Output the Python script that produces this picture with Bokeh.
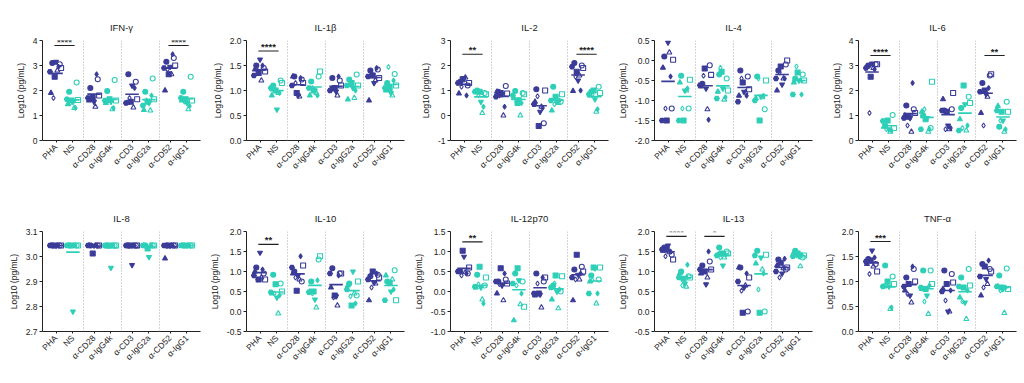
import math
import numpy as np
from bokeh.plotting import figure
from bokeh.layouts import gridplot
from bokeh.models import FixedTicker, Range1d, Span, ColumnDataSource, PrintfTickFormatter
from bokeh.embed import file_html
from bokeh.resources import INLINE
from bokeh.core.properties import value

# ---------------- data ----------------
categories = ["PHA", "NS", "α-CD28", "α-IgG4k", "α-CD3", "α-IgG2a", "α-CD52", "α-IgG1"]

panel_titles = ["IFN-γ", "IL-1β", "IL-2", "IL-4", "IL-6",
                "IL-8", "IL-10", "IL-12p70", "IL-13", "TNF-α"]

# each list: one row per category (order as in `categories`), one value per donor
ifn_gamma = [
    [3.1, 3.05, 2.55, 2.9, 1.9, 2.8, 3.15, 1.7, 2.95, 2.75],
    [1.95, 2.32, 1.6, 1.62, 1.45, 1.3, 1.55, 1.5, 1.3, 1.65],
    [2.1, 2.45, 1.7, 1.8, 1.6, 1.35, 1.55, 1.65, 2.65, 1.7],
    [1.98, 2.42, 1.65, 1.6, 1.5, 1.25, 1.55, 1.6, 1.3, 1.6],
    [2.65, 2.35, 1.55, 1.65, 1.5, 1.32, 2.2, 1.7, 2.1, 1.5],
    [1.95, 2.48, 1.55, 1.65, 1.22, 1.2, 1.5, 1.6, 1.8, 1.4],
    [3.15, 3.3, 2.65, 3.0, 2.0, 2.65, 2.95, 2.85, 3.45, 2.9],
    [1.95, 2.55, 1.65, 1.6, 1.6, 1.25, 1.5, 1.55, 1.38, 1.7],
]
il_1b = [
    [1.5, 1.45, 1.35, 1.38, 1.42, 1.2, 1.62, 1.4, 1.5, 1.3],
    [1.1, 1.2, 1.0, 1.15, 0.9, 0.95, 0.62, 1.05, 0.95, 1.05],
    [1.28, 1.22, 0.95, 1.15, 1.28, 0.88, 0.9, 1.15, 1.25, 1.1],
    [1.18, 1.28, 1.0, 1.38, 0.9, 0.95, 1.0, 1.05, 0.9, 1.05],
    [1.25, 1.2, 1.05, 1.1, 1.02, 0.9, 0.98, 1.05, 1.28, 1.0],
    [1.22, 1.32, 1.15, 1.1, 0.82, 0.85, 1.05, 1.18, 1.0, 1.1],
    [1.4, 1.42, 1.3, 1.25, 0.8, 1.2, 1.15, 1.35, 1.45, 1.28],
    [1.15, 1.33, 1.05, 1.1, 1.0, 0.9, 0.95, 1.47, 1.2, 1.05],
]
il_2 = [
    [1.35, 1.2, 1.45, 1.3, 0.88, 1.52, 1.5, 1.15, 0.8, 1.3],
    [1.0, 0.9, 0.95, 0.85, 0.98, 0.1, 0.55, 0.82, 0.35, 0.95],
    [0.95, 1.18, 0.9, 0.88, 0.95, 0.0, 0.85, 0.8, 0.35, 0.75],
    [0.98, 0.9, 0.5, 0.85, 0.7, 0.0, 0.65, 0.55, 0.5, 0.8],
    [1.05, -0.31, -0.42, 1.0, 0.55, 0.35, 0.15, 0.77, 0.3, 0.45],
    [1.15, 0.55, 0.75, 0.85, 0.2, 0.5, 0.55, 0.45, 0.6, 0.6],
    [2.1, 2.0, 1.75, 1.9, 0.98, 1.6, 1.4, 1.55, 1.0, 1.95],
    [0.95, 1.15, 1.0, 0.9, 0.8, 0.15, 0.65, 0.85, 0.25, 0.85],
]
il_4 = [
    [0.1, -1.2, -1.5, 0.02, -0.18, 0.2, 0.45, -1.2, -0.4, -1.5],
    [-0.38, -1.2, -1.5, -0.48, -0.55, -0.75, -0.75, -1.2, -0.7, -1.5],
    [-0.58, -0.12, -0.2, -0.36, -0.65, -1.22, -0.7, -0.38, -1.48, -0.62],
    [-0.35, -0.45, -0.28, -0.75, -0.78, -0.98, -0.7, -0.18, -0.92, -0.95],
    [-0.25, -0.4, -0.55, -0.72, -0.88, -0.8, -0.78, -0.45, -0.88, -1.03],
    [-0.4, -1.22, -1.5, -0.5, -0.95, -0.92, -0.9, -0.45, -0.88, -1.0],
    [-0.25, -0.1, -0.15, 0.0, -0.75, -0.45, -0.6, -0.3, -0.45, -0.45],
    [-0.45, -0.35, -0.3, -0.5, -0.55, -0.5, -0.5, -0.15, -0.85, -0.85],
]
il_6 = [
    [3.0, 3.05, 2.55, 3.05, 2.95, 2.9, 3.08, 1.1, 2.85, 2.9],
    [0.6, 1.02, 0.8, 0.5, 0.55, 0.35, 0.45, 0.45, 0.4, 0.78],
    [1.4, 1.25, 0.95, 1.1, 1.0, 0.35, 0.9, 0.6, 2.3, 0.9],
    [1.0, 0.5, 0.85, 2.35, 1.15, 0.35, 0.9, 1.25, 0.45, 0.45],
    [1.2, 1.25, 1.15, 1.9, 1.65, 0.45, 0.6, 0.45, 0.5, 1.2],
    [1.3, 1.75, 2.2, 1.5, 0.85, 0.4, 1.45, 0.5, 0.6, 0.4],
    [2.3, 2.6, 2.0, 2.65, 1.1, 1.75, 1.85, 0.6, 2.1, 1.95],
    [0.55, 1.55, 1.15, 1.15, 1.38, 0.35, 0.8, 0.8, 0.45, 1.2],
]
il_8 = [
    [3.044, 3.044, 3.044, 3.044, 3.044, 3.044, 3.044, 3.044, 3.044, 3.044],
    [3.044, 3.044, 3.044, 3.044, 3.044, 3.044, 2.78, 3.044, 3.044, 3.044],
    [3.044, 3.044, 3.012, 3.044, 3.044, 3.044, 3.044, 3.044, 3.044, 3.044],
    [3.044, 3.044, 3.044, 3.044, 3.044, 3.044, 2.955, 3.044, 3.044, 3.044],
    [3.044, 3.044, 3.044, 3.044, 3.044, 3.044, 2.966, 3.044, 3.044, 3.044],
    [3.044, 3.044, 3.032, 3.044, 3.044, 3.044, 2.998, 3.044, 3.044, 3.044],
    [3.044, 3.044, 3.044, 3.044, 2.992, 3.044, 3.044, 3.044, 3.044, 3.044],
    [3.044, 3.044, 3.044, 3.044, 3.044, 3.044, 3.044, 3.044, 3.044, 3.044],
]
il_10 = [
    [1.1, 0.95, 0.8, 0.8, 1.0, 0.85, 1.47, 0.8, 1.05, 0.9],
    [0.92, 0.7, 0.68, 0.5, 0.45, -0.05, 0.35, 0.45, 0.4, 0.48],
    [1.0, 0.75, 0.52, 1.15, 0.95, 0.8, 0.9, 0.85, 1.38, 1.1],
    [0.75, 1.3, 0.5, 1.38, 0.5, 0.1, 0.3, 0.45, 0.78, 0.48],
    [1.08, 0.95, 0.4, 0.95, 0.6, 0.15, 0.38, 0.35, 0.9, 0.95],
    [0.7, 0.4, 0.15, 0.75, 0.65, 0.45, 1.0, 0.38, 0.2, 0.55],
    [0.88, 0.92, 1.0, 0.85, 0.28, 0.7, 0.72, 0.6, 0.95, 0.8],
    [0.75, 1.03, 0.72, 0.28, 0.9, 0.8, 0.5, 0.7, 0.55, 0.28],
]
il_12p70 = [
    [0.5, 0.45, 1.02, 0.6, 0.5, 0.48, 0.87, 0.4, 0.45, 0.5],
    [0.42, 0.15, 0.62, 0.35, 0.1, -0.2, 0.1, 0.18, -0.3, 0.12],
    [0.25, 0.3, 0.58, 0.2, -0.05, -0.22, 0.15, 0.18, 0.45, 0.25],
    [0.45, 0.25, 0.58, -0.38, -0.72, -0.32, 0.28, 0.15, -0.05, 0.2],
    [0.45, 0.25, -0.05, 0.35, -0.1, -0.4, -0.08, 0.2, 0.35, -0.05],
    [0.15, 0.0, 0.4, 0.38, -0.2, -0.42, 0.0, 0.2, 0.05, 0.1],
    [0.55, 0.62, 0.92, 0.5, -0.22, 0.3, 0.42, 0.3, 0.45, 0.35],
    [0.4, 0.3, 0.6, 0.6, 0.25, -0.3, 0.58, 0.28, -0.05, -0.05],
]
il_13 = [
    [1.6, 1.42, 1.55, 1.3, 1.52, 1.48, 1.65, 1.38, 1.5, 1.55],
    [1.0, 0.88, 0.82, 0.85, 0.95, 0.62, 0.7, 0.65, 1.17, 0.85],
    [1.15, 1.25, 1.0, 1.05, 0.95, 0.85, 0.68, 1.0, 1.5, 1.05],
    [1.6, 1.5, 1.45, 1.45, 1.42, 1.35, 1.15, 1.35, 1.42, 1.4],
    [1.1, 0.0, -0.03, 0.85, 1.1, 0.65, 0.6, 0.52, 0.95, 0.75],
    [1.52, 0.0, -0.03, 1.42, 1.2, 1.05, 1.35, 0.55, 0.95, 1.4],
    [1.3, 1.05, 1.22, 1.1, 1.15, 1.08, 0.95, 0.85, 1.32, 1.0],
    [1.52, 1.35, 1.45, 1.4, 1.48, 1.13, 1.38, 1.4, 1.42, 1.38],
]
tnf_a = [
    [1.45, 1.35, 1.42, 1.2, 1.35, 1.3, 1.62, 1.15, 1.48, 1.4],
    [1.32, 1.1, 1.0, 0.95, 0.9, 0.45, 0.9, 0.92, 0.48, 0.9],
    [1.08, 1.25, 0.95, 1.0, 0.82, 0.58, 0.72, 0.75, 1.3, 0.9],
    [1.22, 1.22, 0.85, 0.95, 0.85, 0.35, 0.72, 0.6, 0.92, 0.88],
    [1.22, 1.15, 0.95, 0.98, 0.85, 0.4, 0.4, 0.62, 0.82, 0.8],
    [1.08, 1.25, 0.88, 0.92, 0.68, 0.25, 0.58, 0.6, 0.82, 0.9],
    [1.35, 1.25, 1.3, 1.2, 0.72, 0.95, 1.05, 0.88, 1.42, 1.1],
    [1.12, 1.26, 0.88, 0.85, 0.9, 0.37, 0.85, 0.82, 0.88, 0.9],
]
panel_values = [ifn_gamma, il_1b, il_2, il_4, il_6, il_8, il_10, il_12p70, il_13, tnf_a]

# y-axis ticks per panel
y_ticks = [
    [0, 1, 2, 3, 4],
    [0.0, 0.5, 1.0, 1.5, 2.0],
    [-1, 0, 1, 2, 3],
    [-2.0, -1.5, -1.0, -0.5, 0.0, 0.5],
    [0, 1, 2, 3, 4],
    [2.7, 2.8, 2.9, 3.0, 3.1],
    [-0.5, 0.0, 0.5, 1.0, 1.5, 2.0],
    [-1.0, -0.5, 0.0, 0.5, 1.0, 1.5],
    [-0.5, 0.0, 0.5, 1.0, 1.5, 2.0],
    [0.0, 0.5, 1.0, 1.5, 2.0],
]
y_formats = ["%d", "%.1f", "%d", "%.1f", "%d", "%.1f", "%.1f", "%.1f", "%.1f", "%.1f"]

# significance brackets: (category i, category j, label, bar level)
significance = [
    [(0, 1, "****", 3.8), (6, 7, "****", 3.8)],
    [(0, 1, "****", 1.79)],
    [(0, 1, "**", 2.45), (6, 7, "****", 2.45)],
    [],
    [(0, 1, "****", 3.4), (6, 7, "**", 3.4)],
    [],
    [(0, 1, "**", 1.68)],
    [(0, 1, "**", 1.24)],
    [(0, 1, "****", 1.88), (2, 3, "*", 1.88)],
    [(0, 1, "***", 1.8)],
]

# ---------------- style / layout ----------------
NAVY = "#3b3b98"
TEAL = "#2ecfb7"
FONT = "Liberation Sans"
cat_pos = [0.0, 1.0, 2.25, 3.25, 4.5, 5.5, 6.75, 7.75]
donor_markers = ["circle", "circle", "square", "square", "triangle", "triangle",
                 "inverted_triangle", "diamond", "diamond", "hex"]
donor_filled = [True, False, True, False, True, False, True, False, True, True]
donor_offset = [-0.22, 0.22, -0.08, 0.3, -0.3, 0.08, 0.0, -0.15, 0.15, -0.36]


def make_panel(k):
    vals = panel_values[k]
    ticks = y_ticks[k]
    p = figure(frame_width=158, frame_height=100,
               x_range=Range1d(-0.8, 8.55), y_range=Range1d(ticks[0], ticks[-1]),
               output_backend="svg", toolbar_location=None,
               min_border_left=42, min_border_right=4, min_border_top=40, min_border_bottom=51,
               title=panel_titles[k])
    p.outline_line_color = None
    p.xgrid.visible = False
    p.ygrid.visible = False
    p.background_fill_color = "white"
    p.border_fill_color = "white"
    p.title.align = "center"
    p.title.text_font = FONT
    p.title.text_font_size = "9.5px"
    p.title.text_font_style = "normal"
    p.title.text_color = "#222222"
    p.title.standoff = 15

    # separators
    for a in (1, 3, 5):
        p.add_layout(Span(location=(cat_pos[a] + cat_pos[a + 1]) / 2, dimension="height",
                          line_color="#aaaaaa", line_dash="1 2", line_width=1))

    xs, ys, mk, fc, fa, lc = [], [], [], [], [], []
    mx0, mx1, my, mc = [], [], [], []
    for ci, row in enumerate(vals):
        col = NAVY if ci % 2 == 0 else TEAL
        for di, v in enumerate(row):
            xs.append(cat_pos[ci] + donor_offset[di])
            ys.append(v)
            mk.append(donor_markers[di])
            fc.append(col if donor_filled[di] else "white")
            fa.append(1.0 if donor_filled[di] else 0.0)
            lc.append(col)
        m = float(np.mean(row))
        mx0.append(cat_pos[ci] - 0.4)
        mx1.append(cat_pos[ci] + 0.4)
        my.append(m)
        mc.append(col)

    src = ColumnDataSource(dict(x=xs, y=ys, marker=mk, fill=fc, fa=fa, line=lc))
    p.scatter(x="x", y="y", marker="marker", fill_color="fill", fill_alpha="fa",
              line_color="line", size=5, line_width=1.1, source=src)
    p.segment(x0=mx0, y0=my, x1=mx1, y1=my, line_color=mc, line_width=1.6)

    for (i, j, lab, lev) in significance[k]:
        p.segment(x0=[cat_pos[i] - 0.1], y0=[lev], x1=[cat_pos[j] + 0.1], y1=[lev],
                  line_color="#222222", line_width=1.2)
        p.text(x=[(cat_pos[i] + cat_pos[j]) / 2], y=[lev], text=[lab],
               text_align="center", text_baseline="bottom", y_offset=1,
               text_font=value(FONT), text_font_size="9.5px", text_font_style="bold",
               text_color="#222222")

    # axes
    xa = p.xaxis[0]
    xa.ticker = FixedTicker(ticks=cat_pos)
    xa.major_label_overrides = {cp: c for cp, c in zip(cat_pos, categories)}
    xa.major_label_orientation = math.pi / 4
    xa.minor_tick_line_color = None
    xa.major_tick_out = 2
    xa.major_tick_in = 0
    xa.axis_line_color = "#222222"
    xa.major_tick_line_color = "#222222"
    xa.major_label_text_font = FONT
    xa.major_label_text_font_size = "8.5px"
    xa.major_label_text_color = "#222222"
    xa.major_label_standoff = 3

    ya = p.yaxis[0]
    ya.ticker = FixedTicker(ticks=ticks)
    ya.formatter = PrintfTickFormatter(format=y_formats[k])
    ya.minor_tick_line_color = None
    ya.major_tick_out = 3
    ya.major_tick_in = 0
    ya.axis_line_color = "#222222"
    ya.major_tick_line_color = "#222222"
    ya.major_label_text_font = FONT
    ya.major_label_text_font_size = "8.5px"
    ya.major_label_text_color = "#222222"
    ya.major_label_standoff = 2
    ya.axis_label = "Log10 (pg/mL)"
    ya.axis_label_text_font = FONT
    ya.axis_label_text_font_size = "8.5px"
    ya.axis_label_text_font_style = "normal"
    ya.axis_label_text_color = "#222222"
    ya.axis_label_standoff = 4
    return p


panels = [make_panel(k) for k in range(10)]
layout = gridplot([panels[:5], panels[5:]], toolbar_location=None)

open("out.html", "w").write(file_html(layout, INLINE))
